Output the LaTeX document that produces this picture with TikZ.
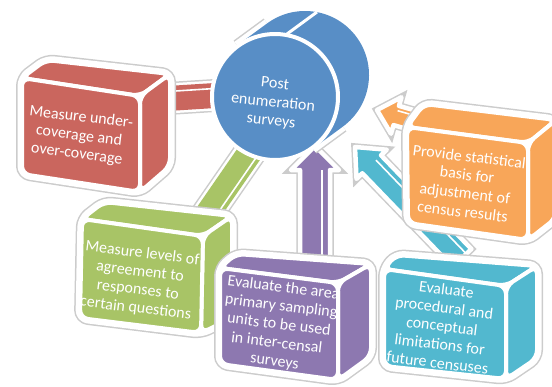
\documentclass[tikz,border=0pt]{standalone}
\usepackage{fontspec}
\setmainfont{Carlito}
\usetikzlibrary{calc,positioning}

\definecolor{pesblue}{RGB}{88,142,198}
\definecolor{boxred}{RGB}{202,102,94}
\definecolor{boxgreen}{RGB}{168,196,102}
\definecolor{boxpurple}{RGB}{141,120,176}
\definecolor{boxcyan}{RGB}{82,184,207}
\definecolor{boxorange}{RGB}{248,166,89}

\tikzset{
  halo/.style={fill=white, draw=white, line width=9pt, line join=round, rounded corners=8pt,
    preaction={draw=black!20, line width=12pt}},
  face/.style={draw=white, line width=4pt, line join=round, rounded corners=8pt},
  boxtext/.style={text=white, align=center, inner sep=0pt, font=\fontsize{16}{18.5}\selectfont, rotate=-7},
  band/.style={line width=25pt, preaction={draw=black!20, line width=33pt}, preaction={draw=white, line width=30pt}},
  arrowbody/.style={draw=white, line width=4.5pt, line join=round, preaction={draw=black!20, line width=7.5pt}},
  edge/.style={draw=white, line width=1.6pt},
}

% block arrow: colour, foot, tip, shaft half width, head half width, head length, edge offset
\newcommand{\blockarrow}[7]{%
  \coordinate (hb) at ($(#3)!#6!(#2)$);
  \filldraw[arrowbody, fill=#1] ($(#2)!#4!90:(#3)$) -- ($(hb)!#4!90:(#3)$) -- ($(hb)!#5!90:(#3)$)
    -- (#3) -- ($(hb)!#5!-90:(#3)$) -- ($(hb)!#4!-90:(#3)$) -- ($(#2)!#4!-90:(#3)$) -- cycle;
  \draw[edge] ($(#2)!#7!90:(#3)$) -- ($(hb)!#7!90:(#3)$);
}

\begin{document}
\begin{tikzpicture}[x=1pt, y=-1pt]
  \useasboundingbox (0,0) rectangle (552,386);
  \clip (0,0) rectangle (552,386);

  % Ends of the links
  \coordinate (redfoot) at (160,99);
  \coordinate (redend) at (270,92);
  \coordinate (greenfoot) at (195,232);
  \coordinate (greenend) at (262,135);
  \coordinate (purplefoot) at (315,262);
  \coordinate (purpletip) at (315,146);
  \coordinate (cyanfoot) at (462,258);
  \coordinate (cyantip) at (355,147);
  \coordinate (orangefoot) at (440,128);
  \coordinate (orangetip) at (377,110);

  % Links, all behind the shapes
  \draw[band, boxred] (redfoot) -- (redend);
  \draw[edge] ($(redfoot)!7pt!90:(redend)$) -- ($(redend)!7pt!-90:(redfoot)$);
  \draw[band, boxgreen] (greenfoot) -- (greenend);
  \draw[edge] ($(greenfoot)!-8pt!90:(greenend)$) -- ($(greenend)!-8pt!-90:(greenfoot)$);
  \blockarrow{boxpurple}{purplefoot}{purpletip}{15pt}{24pt}{24pt}{-7pt}
  \blockarrow{boxcyan}{cyanfoot}{cyantip}{13pt}{21pt}{24pt}{-6pt}
  \blockarrow{boxorange}{orangefoot}{orangetip}{10pt}{19pt}{20pt}{-5pt}

  % Cylinder
  \draw[pesblue, line width=128pt, line cap=round,
    preaction={draw=black!20, line width=140pt}, preaction={draw=white, line width=137pt}] (275,97) -- (305,75);
  \filldraw[fill=pesblue, draw=white, line width=4pt] (275,97) circle (63pt);
  \draw[white, line width=3pt] (287,34) -- (317,12);
  \node[boxtext, rotate=1] (pes) at (273,103) {Post\\enumeration\\surveys};

  % Red box
  \path[halo] (22,78) -- (46,60) -- (170,74) -- (170,166) -- (140,192) -- (22,174) -- cycle;
  \filldraw[face, fill=boxred] (22,78) -- (46,60) -- (170,74) -- (140,96) -- cycle;
  \filldraw[face, fill=boxred] (140,96) -- (170,74) -- (170,166) -- (140,192) -- cycle;
  \filldraw[face, fill=boxred] (22,78) -- (140,96) -- (140,192) -- (22,174) -- cycle;
  \node[boxtext] (coverage) at (79,136) {Measure under-\\coverage and\\over-coverage};

  % Green box
  \path[halo] (82,219) -- (104,202) -- (232,216) -- (232,318) -- (201,333) -- (80,318) -- cycle;
  \filldraw[face, fill=boxgreen] (82,219) -- (104,202) -- (232,216) -- (203,236) -- cycle;
  \filldraw[face, fill=boxgreen] (203,236) -- (232,216) -- (232,318) -- (201,333) -- cycle;
  \filldraw[face, fill=boxgreen] (82,219) -- (203,236) -- (201,333) -- (80,318) -- cycle;
  \node[boxtext] (agreement) at (139,281) {Measure levels of\\agreement to\\responses to\\certain questions};

  % Purple box
  \path[halo] (220,268) -- (236,254) -- (371,264) -- (371,356) -- (338,380) -- (220,364) -- cycle;
  \filldraw[face, fill=boxpurple] (220,268) -- (236,254) -- (371,264) -- (338,283) -- cycle;
  \filldraw[face, fill=boxpurple] (338,283) -- (371,264) -- (371,356) -- (338,380) -- cycle;
  \filldraw[face, fill=boxpurple] (220,268) -- (338,283) -- (338,380) -- (220,364) -- cycle;
  \node[boxtext] (sampling) at (279,325) {Evaluate the area\\primary sampling\\units to be used\\in inter-censal\\surveys};

  % Cyan box
  \path[halo] (384,269) -- (396,255) -- (537,266) -- (537,358) -- (506,379) -- (384,366) -- cycle;
  \filldraw[face, fill=boxcyan] (384,269) -- (396,255) -- (537,266) -- (506,286) -- cycle;
  \filldraw[face, fill=boxcyan] (506,286) -- (537,266) -- (537,358) -- (506,379) -- cycle;
  \filldraw[face, fill=boxcyan] (384,269) -- (506,286) -- (506,379) -- (384,366) -- cycle;
  \node[boxtext] (limits) at (442,326) {Evaluate\\procedural and\\conceptual\\limitations for\\future censuses};

  % Orange box
  \path[halo] (407,127) -- (424,104) -- (556,120) -- (556,218) -- (528,240) -- (408,223) -- cycle;
  \filldraw[face, fill=boxorange] (407,127) -- (424,104) -- (556,120) -- (528,143) -- cycle;
  \filldraw[face, fill=boxorange] (528,143) -- (556,120) -- (556,218) -- (528,240) -- cycle;
  \filldraw[face, fill=boxorange] (407,127) -- (528,143) -- (528,240) -- (408,223) -- cycle;
  \node[boxtext] (adjust) at (466,184) {Provide statistical\\basis for\\adjustment of\\census results};
\end{tikzpicture}
\end{document}
